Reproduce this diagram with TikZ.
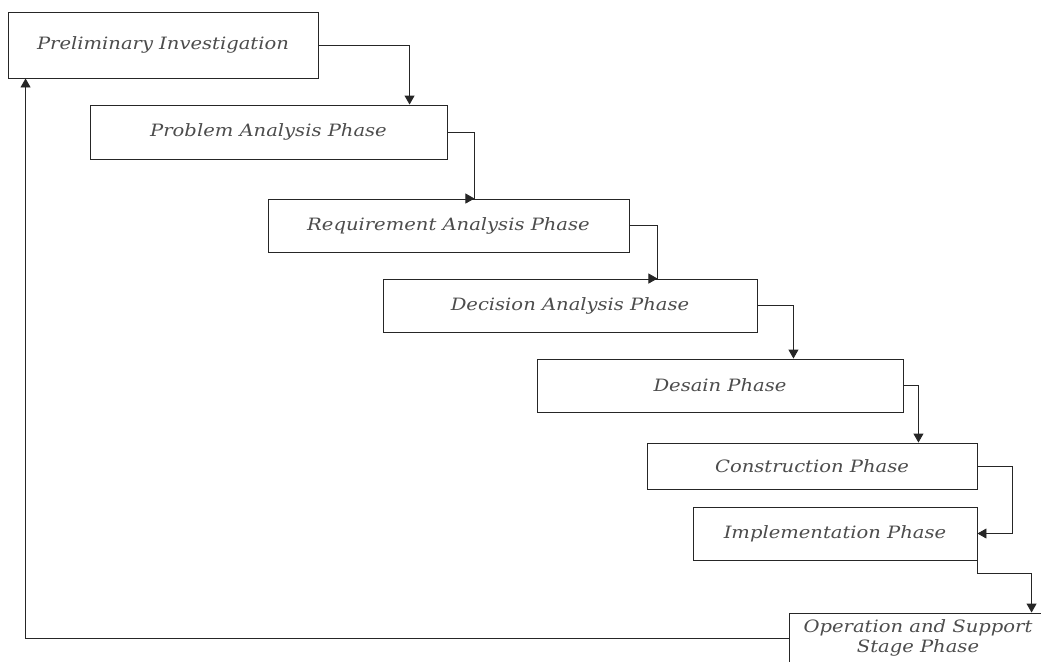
\documentclass[tikz,border=0pt]{standalone}
\usepackage{fontspec}
\newfontfamily\lblfont[FakeStretch=1.15]{DejaVu Serif}
\usetikzlibrary{arrows.meta,calc}
\begin{document}
\begin{tikzpicture}[x=1pt,y=-1pt,
  phase/.style={draw=black!85,line width=0.9pt,rectangle,inner sep=0pt,
     font=\lblfont\itshape\fontsize{17}{20}\selectfont,text=black!70,align=center},
  conn/.style={draw=black!85,line width=0.9pt},
  tip/.style={conn,-{Triangle[width=10pt,length=9pt]}}]
\useasboundingbox (0,0) rectangle (1041,661);
\clip (0,0) rectangle (1041,661);
\node[phase,minimum width=310pt,minimum height=66pt] (b1) at (163,45) {Preliminary Investigation};
\node[phase,minimum width=357pt,minimum height=54pt] (b2) at (268.5,132) {Problem Analysis Phase};
\node[phase,minimum width=361pt,minimum height=53pt] (b3) at (448.5,225.5) {Requirement Analysis Phase};
\node[phase,minimum width=374pt,minimum height=53pt] (b4) at (570,305.5) {Decision Analysis Phase};
\node[phase,minimum width=366pt,minimum height=53pt] (b5) at (720,385.5) {Desain Phase};
\node[phase,minimum width=330pt,minimum height=46pt] (b6) at (812,466) {Construction Phase};
\node[phase,minimum width=284pt,minimum height=53pt] (b7) at (835,533.5) {Implementation Phase};
\node[phase,minimum width=258pt,minimum height=50pt] (b8) at (918,638) {Operation and Support\\Stage Phase};
% corners
\coordinate (c2) at ([xshift=27pt]b2.east |- b3.north);
\coordinate (c3) at ([xshift=28pt]b3.east |- b4.north);
\coordinate (c7) at ([yshift=-13pt]b7.south east);
% connectors
\draw[tip] (b1.east) -| ([xshift=320pt]b2.north west);
\draw[conn] (b2.east) -| (c2);
\draw[tip] ([xshift=-2pt]c2) -- (c2);
\draw[conn] (b3.east) -| (c3);
\draw[tip] ([xshift=-2pt]c3) -- (c3);
\draw[tip] (b4.east) -| ([xshift=36pt]b4.east |- b5.north);
\draw[tip] (b5.east) -| ([xshift=15pt]b5.east |- b6.north);
\draw[tip] (b6.east) -- ++(35pt,0) |- (b7.east);
\draw[tip] (b7.south east) -- (c7) -| ([xshift=243pt]b8.north west);
\draw[tip] (b8.west) -| ([xshift=18pt]b1.south west);
\end{tikzpicture}
\end{document}
